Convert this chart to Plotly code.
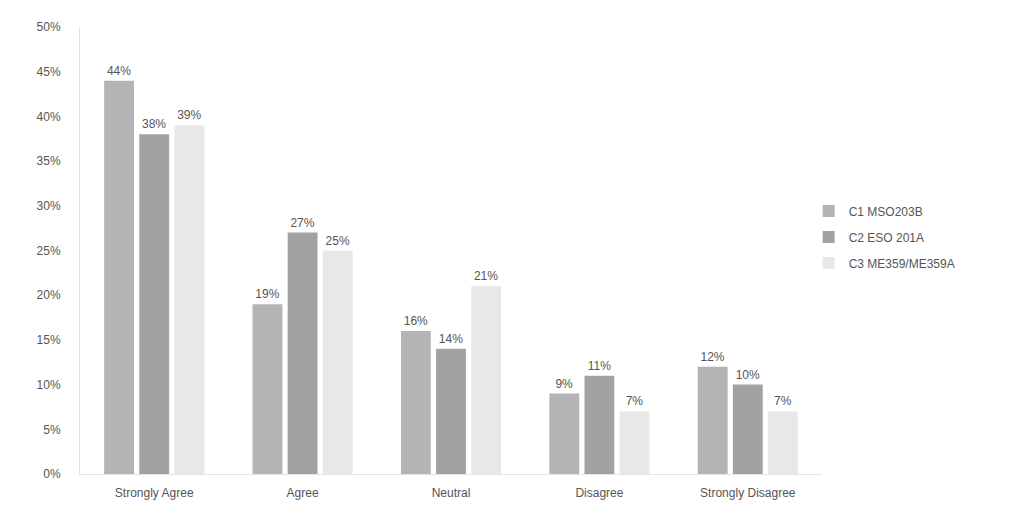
import plotly.graph_objects as go

categories = ["Strongly Agree", "Agree", "Neutral", "Disagree", "Strongly Disagree"]
series_names = ["C1 MSO203B", "C2 ESO 201A", "C3 ME359/ME359A"]
c1_values = [0.44, 0.19, 0.16, 0.09, 0.12]
c2_values = [0.38, 0.27, 0.14, 0.11, 0.10]
c3_values = [0.39, 0.25, 0.21, 0.07, 0.07]
y_ticks = [0, 0.05, 0.10, 0.15, 0.20, 0.25, 0.30, 0.35, 0.40, 0.45, 0.50]
y_tick_labels = ["0%", "5%", "10%", "15%", "20%", "25%", "30%", "35%", "40%", "45%", "50%"]

colors = ["#b4b4b4", "#a2a2a2", "#e8e8e8"]
font_family = "Liberation Sans, Arial, sans-serif"

fig = go.Figure()
for name, vals, col in zip(series_names, [c1_values, c2_values, c3_values], colors):
    fig.add_trace(go.Bar(
        name=name,
        legendgroup=name,
        x=categories,
        y=vals,
        marker=dict(color=col, line=dict(width=0)),
        text=[f"{round(v*100)}%" for v in vals],
        textposition="outside",
        textfont=dict(size=12, color="#555555", family=font_family),
        cliponaxis=False,
    ))

fig.update_layout(
    width=1016,
    height=515,
    barmode="group",
    bargap=0.29,
    bargroupgap=0.15,
    plot_bgcolor="white",
    paper_bgcolor="white",
    margin=dict(l=72, r=202, t=17, b=49),
    font=dict(family=font_family, size=12, color="#555555"),
    showlegend=True,
    legend=dict(
        x=0.982, y=0.621, xanchor="left", yanchor="top",
        font=dict(size=12, color="#555555"),
        tracegroupgap=7,
        itemwidth=30,
    ),
    xaxis=dict(
        showgrid=False,
        showline=True,
        linecolor="#e4e4e4",
        linewidth=1,
        ticks="",
        ticklabelstandoff=8,
        tickfont=dict(size=12, color="#555555"),
    ),
    yaxis=dict(
        range=[0, 0.5],
        tickvals=y_ticks,
        ticktext=y_tick_labels,
        showgrid=False,
        zeroline=False,
        showline=True,
        linecolor="#e0e0e0",
        linewidth=1,
        ticks="",
        ticklabelstandoff=16,
        tickfont=dict(size=12, color="#555555"),
    ),
)

fig.write_html("out.html")
